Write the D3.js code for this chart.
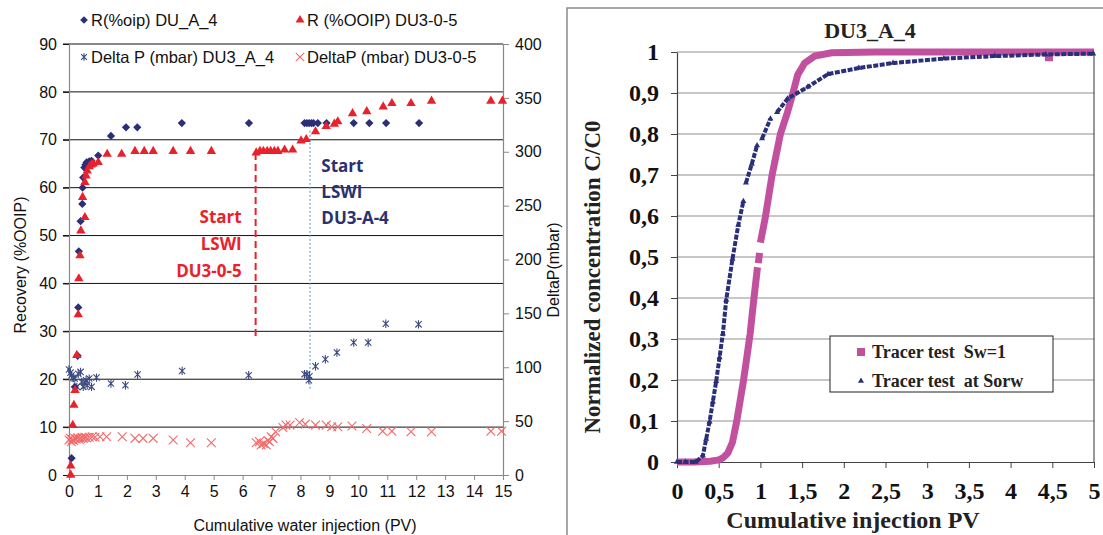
<!DOCTYPE html>
<html>
<head>
<meta charset="utf-8">
<script src="https://cdn.jsdelivr.net/npm/d3@7"></script>
<style>
  body { margin: 0; background: #fff; }
  svg { display: block; }
</style>
</head>
<body>
<svg id="chart" width="1103" height="535"></svg>
<script>
// ---- left panel: recovery (left axis) and delta P (right axis) vs PV injected
const recA4X = [0.09, 0.2, 0.3, 0.32, 0.34, 0.4, 0.46, 0.47, 0.49, 0.53, 0.57, 0.61, 0.7, 0.78, 1.01, 1.45, 1.97, 2.36, 3.9, 6.22, 8.14, 8.22, 8.3, 8.38, 8.45, 8.6, 8.9, 9.84, 10.38, 10.96, 12.1];
const recA4Y = [3.5, 18.4, 24.9, 35, 46.7, 53, 56.6, 60, 62.1, 64.2, 64.8, 65.3, 65.5, 65.6, 66.7, 70.8, 72.6, 72.6, 73.5, 73.5, 73.5, 73.5, 73.5, 73.5, 73.5, 73.5, 73.5, 73.5, 73.5, 73.5, 73.5];

const rec305X = [0.06, 0.06, 0.13, 0.17, 0.21, 0.27, 0.32, 0.34, 0.38, 0.41, 0.47, 0.55, 0.55, 0.59, 0.63, 0.7, 0.77, 0.84, 1.01, 1.32, 1.82, 2.28, 2.6, 2.91, 3.6, 4.2, 4.92, 6.47, 6.6, 6.72, 6.85, 6.97, 7.1, 7.22, 7.45, 7.73, 8.02, 8.2, 8.52, 8.89, 9.17, 9.29, 9.8, 10.29, 10.86, 11.16, 11.82, 12.53, 14.58, 14.98];
const rec305Y = [0, 1.9, 10.4, 14.6, 17.7, 25, 33.5, 41, 45.8, 51, 58, 53.8, 61.1, 62.5, 63.5, 64.4, 64.8, 65, 65.3, 67, 67, 67.6, 67.6, 67.6, 67.6, 67.6, 67.6, 67.3, 67.6, 67.6, 67.6, 67.6, 67.6, 67.6, 67.9, 67.9, 69.8, 70.1, 71.7, 72.8, 73.3, 73.8, 75.5, 75.9, 76.9, 77.6, 77.6, 78.1, 78.1, 78.1];

const dpA4X = [0, 0.05, 0.09, 0.15, 0.2, 0.27, 0.32, 0.4, 0.44, 0.49, 0.55, 0.59, 0.63, 0.7, 0.78, 0.95, 1.45, 1.95, 2.37, 3.91, 6.21, 8.14, 8.22, 8.29, 8.31, 8.52, 8.86, 9.26, 9.84, 10.34, 10.95, 12.08];
const dpA4Y = [98, 95, 92.6, 90, 89.5, 81.8, 94, 95.7, 86.4, 81.8, 86, 88, 83.3, 89.5, 81.8, 90.4, 84.9, 83.3, 93.2, 96.6, 92.6, 93.5, 93.5, 88, 91.7, 100.9, 107.4, 113.6, 122.9, 122.9, 140.4, 139.8];

const dp305X = [0, 0.05, 0.08, 0.12, 0.16, 0.2, 0.25, 0.3, 0.35, 0.4, 0.45, 0.5, 0.55, 0.6, 0.7, 0.8, 0.9, 1.07, 1.3, 1.84, 2.28, 2.56, 2.91, 3.6, 4.2, 4.92, 6.47, 6.58, 6.64, 6.72, 6.82, 6.88, 6.93, 6.99, 7.05, 7.14, 7.39, 7.5, 7.64, 7.97, 8.17, 8.52, 8.89, 9.08, 9.29, 9.78, 10.29, 10.84, 11.16, 11.82, 12.53, 14.58, 14.95];
const dp305Y = [32.4, 34, 30.9, 33, 32, 34, 33.5, 34.5, 33, 34, 35, 34, 35, 34.5, 35, 35.5, 35, 35.5, 35.5, 35.5, 34, 34, 34, 32.4, 29.9, 29.9, 29.9, 31, 27.8, 29, 27.8, 32, 30.9, 35.5, 34, 40.1, 44, 46.3, 46.3, 48.8, 47.2, 46.3, 46.3, 44.8, 44.8, 45.4, 43.2, 40.7, 40.7, 40.1, 40.1, 40.7, 40.7];

// start of low salinity injection markers (x, y from, y to) on recovery axis
const lswi305 = {x: 6.45, from: 29, to: 67.3};
const lswiA4 = {x: 8.33, from: 18, to: 72.2};

const leftXTicks = d3.range(0, 16, 1);
const leftYTicks = d3.range(0, 91, 10);
const rightYTicks = d3.range(0, 401, 50);

// ---- right panel: tracer tests
const swX = [0, 0.2, 0.4, 0.5, 0.55, 0.61, 0.665, 0.715, 0.755, 0.796, 0.837, 0.877, 0.92, 0.965, null, 0.975, 0.99, null, 1.0, 1.06, 1.14, 1.24, 1.325, 1.385, 1.447, 1.53, 1.65, 1.855, 2.38, 3, 3.5, 4, 4.5, 5];
const swY = [0, 0, 0.002, 0.005, 0.01, 0.022, 0.048, 0.098, 0.147, 0.197, 0.255, 0.313, 0.395, 0.475, null, 0.485, 0.51, null, 0.535, 0.598, 0.7, 0.8, 0.853, 0.896, 0.944, 0.973, 0.99, 0.998, 1, 1, 1, 1, 1, 1];
// single low reading of the Sw=1 test
const swOutX = [4.46];
const swOutY = [0.986];

const sorwX = [0, 0.1, 0.225, 0.31, 0.35, 0.39, 0.43, 0.47, 0.51, 0.55, 0.59, 0.665, 0.735, 0.796, null, 0.827, 0.897, 0.96, null, 1.02, 1.12, null, 1.2, 1.325, 1.57, 1.81, 2.18, 2.59, 3.2, 3.81, 4.42, 4.99];
const sorwY = [0, 0, 0, 0.015, 0.056, 0.098, 0.147, 0.197, 0.255, 0.313, 0.395, 0.495, 0.578, 0.636, null, 0.681, 0.727, 0.772, null, 0.789, 0.837, null, 0.853, 0.886, 0.915, 0.946, 0.961, 0.973, 0.984, 0.99, 0.994, 0.996];

const concTicks = d3.range(0, 11).map(d => d / 10);
const pvTicks = d3.range(0, 11).map(d => d / 2);

const NAVY = '#2a2f78';
const RED = '#e8212b';
const XRED = '#f26a6a';
const STARBLUE = '#3b4a82';
const PINK = '#c1519f';
const sans = 'Liberation Sans, Arial, sans-serif';
const serif = 'Liberation Serif, Times New Roman, serif';
const calibri = 'Open Sans, Lato, sans-serif';

const svg = d3.select('#chart');

const zip = (xs, ys) => xs.map((x, i) => ({x, y: ys[i]}));

// asterisk like excel "star" marker: vertical bar plus an X
const symbolStar = {
  draw(ctx, size) {
    const r = Math.sqrt(size) / 2;
    const d = r * 0.75;
    ctx.moveTo(0, -r); ctx.lineTo(0, r);
    ctx.moveTo(-d, -d); ctx.lineTo(d, d);
    ctx.moveTo(-d, d); ctx.lineTo(d, -d);
  }
};

// ================= LEFT PANEL =================
const xL = d3.scaleLinear().domain([0, 15]).range([69, 503]);
const yL = d3.scaleLinear().domain([0, 90]).range([475, 44]);
const yP = d3.scaleLinear().domain([0, 400]).range([475, 44]);

const left = svg.append('g');

// gridlines
left.append('g')
  .selectAll('line')
  .data(leftYTicks.filter(d => d > 0))
  .join('line')
  .attr('x1', 63).attr('x2', xL(15))
  .attr('y1', d => yL(d)).attr('y2', d => yL(d))
  .attr('stroke', '#111').attr('stroke-width', 1);

const styleAxis = (g, color) => {
  g.select('.domain').attr('stroke', color).attr('stroke-width', 1.2);
  g.selectAll('.tick line').attr('stroke', color);
  g.selectAll('.tick text').attr('fill', '#111');
};

// left y axis
left.append('g')
  .attr('transform', `translate(${xL(0)},0)`)
  .call(d3.axisLeft(yL).tickValues(leftYTicks).tickSize(6).tickSizeOuter(0).tickPadding(6))
  .call(g => styleAxis(g, '#888'))
  .call(g => g.selectAll('.tick line').attr('stroke', '#111'))
  .call(g => g.selectAll('.tick text').attr('font-family', sans).attr('font-size', 16));

// right y axis
left.append('g')
  .attr('transform', `translate(${xL(15)},0)`)
  .call(d3.axisRight(yP).tickValues(rightYTicks).tickSize(6).tickSizeOuter(0).tickPadding(6))
  .call(g => styleAxis(g, '#888'))
  .call(g => g.selectAll('.tick text').attr('font-family', sans).attr('font-size', 16));

// x axis
left.append('g')
  .attr('transform', `translate(0,${yL(0)})`)
  .call(d3.axisBottom(xL).tickValues(leftXTicks).tickSize(5).tickSizeOuter(0).tickPadding(6))
  .call(g => styleAxis(g, '#888'))
  .call(g => g.selectAll('.tick text').attr('font-family', sans).attr('font-size', 16));

// LSWI start lines
left.append('line')
  .attr('x1', xL(lswi305.x)).attr('x2', xL(lswi305.x))
  .attr('y1', yL(lswi305.from)).attr('y2', yL(lswi305.to))
  .attr('stroke', RED).attr('stroke-width', 2).attr('stroke-dasharray', '7,4');
left.append('line')
  .attr('x1', xL(lswiA4.x)).attr('x2', xL(lswiA4.x))
  .attr('y1', yL(lswiA4.from)).attr('y2', yL(lswiA4.to))
  .attr('stroke', '#5a8fd6').attr('stroke-width', 1).attr('stroke-dasharray', '2,2');

// delta P DU3-0-5 (x marks)
left.append('g')
  .selectAll('path')
  .data(zip(dp305X, dp305Y))
  .join('path')
  .attr('transform', d => `translate(${xL(d.x)},${yP(d.y)})`)
  .attr('d', d3.symbol(d3.symbolTimes, 52))
  .attr('fill', 'none').attr('stroke', XRED).attr('stroke-width', 1.1);

// delta P DU3_A_4 (stars)
left.append('g')
  .selectAll('path')
  .data(zip(dpA4X, dpA4Y))
  .join('path')
  .attr('transform', d => `translate(${xL(d.x)},${yP(d.y)})`)
  .attr('d', d3.symbol(symbolStar, 70))
  .attr('fill', 'none').attr('stroke', STARBLUE).attr('stroke-width', 1.1);

// recovery DU_A_4 (diamonds)
left.append('g')
  .selectAll('path')
  .data(zip(recA4X, recA4Y))
  .join('path')
  .attr('transform', d => `translate(${xL(d.x)},${yL(d.y)}) rotate(45)`)
  .attr('d', d3.symbol(d3.symbolSquare, 34))
  .attr('fill', NAVY);

// recovery DU3-0-5 (triangles)
left.append('g')
  .selectAll('path')
  .data(zip(rec305X, rec305Y))
  .join('path')
  .attr('transform', d => `translate(${xL(d.x)},${yL(d.y)})`)
  .attr('d', d3.symbol(d3.symbolTriangle, 38))
  .attr('fill', RED);

// annotations
const redNote = left.append('text')
  .attr('font-family', calibri).attr('font-weight', 'bold').attr('font-size', 17)
  .attr('fill', RED).attr('text-anchor', 'end');
['Start', 'LSWI', 'DU3-0-5'].forEach((t, i) => {
  redNote.append('tspan').attr('x', xL(5.97)).attr('y', yL(52.6) + i * 27).text(t);
});
const blueNote = left.append('text')
  .attr('font-family', calibri).attr('font-weight', 'bold').attr('font-size', 17)
  .attr('fill', '#2b3070').attr('text-anchor', 'start');
['Start', 'LSWI', 'DU3-A-4'].forEach((t, i) => {
  blueNote.append('tspan').attr('x', xL(8.72)).attr('y', yL(63.3) + i * 26).text(t);
});

// axis titles
left.append('text')
  .attr('transform', `translate(26,265) rotate(-90)`)
  .attr('text-anchor', 'middle').attr('font-family', sans).attr('font-size', 16)
  .attr('fill', '#111').text('Recovery (%OOIP)');
left.append('text')
  .attr('transform', `translate(559,270) rotate(-90)`)
  .attr('text-anchor', 'middle').attr('font-family', sans).attr('font-size', 16)
  .attr('fill', '#111').text('DeltaP(mbar)');
left.append('text')
  .attr('x', 305).attr('y', 531)
  .attr('text-anchor', 'middle').attr('font-family', sans).attr('font-size', 16)
  .attr('fill', '#111').text('Cumulative water injection (PV)');

// legend
const legendItems = [
  {label: 'R(%oip) DU_A_4', sym: 'diamond', x: 84, y: 20},
  {label: 'R (%OOIP) DU3-0-5', sym: 'triangle', x: 300, y: 20},
  {label: 'Delta P (mbar) DU3_A_4', sym: 'star', x: 84, y: 57},
  {label: 'DeltaP (mbar) DU3-0-5', sym: 'times', x: 300, y: 57},
];
const leg = left.append('g').selectAll('g').data(legendItems).join('g')
  .attr('transform', d => `translate(${d.x},${d.y})`);
leg.append('path')
  .attr('transform', d => d.sym === 'diamond' ? 'rotate(45)' : null)
  .attr('d', d => {
    if (d.sym === 'diamond') return d3.symbol(d3.symbolSquare, 30)();
    if (d.sym === 'triangle') return d3.symbol(d3.symbolTriangle, 34)();
    if (d.sym === 'star') return d3.symbol(symbolStar, 60)();
    return d3.symbol(d3.symbolTimes, 48)();
  })
  .attr('fill', d => d.sym === 'diamond' ? NAVY : d.sym === 'triangle' ? RED : 'none')
  .attr('stroke', d => d.sym === 'star' ? STARBLUE : d.sym === 'times' ? XRED : 'none')
  .attr('stroke-width', 1.1);
leg.append('text')
  .attr('x', 7).attr('y', 6)
  .attr('font-family', sans).attr('font-size', 16.5).attr('fill', '#111')
  .text(d => d.label);

// ================= RIGHT PANEL =================
const right = svg.append('g');

// panel frame
right.append('path')
  .attr('d', 'M567,535V8H1103')
  .attr('fill', 'none').attr('stroke', '#8a8a8a').attr('stroke-width', 1.5);

const xC = d3.scaleLinear().domain([0, 5]).range([677, 1094]);
const yC = d3.scaleLinear().domain([0, 1]).range([462, 52]);
const comma = d => String(d).replace('.', ',');

// gridlines
right.append('g')
  .selectAll('line')
  .data(concTicks.filter(d => d > 0))
  .join('line')
  .attr('x1', xC(0)).attr('x2', xC(5))
  .attr('y1', d => yC(d)).attr('y2', d => yC(d))
  .attr('stroke', '#b4b4b4').attr('stroke-width', 1.3);

// right border of plot area
right.append('line')
  .attr('x1', xC(5)).attr('x2', xC(5)).attr('y1', yC(1)).attr('y2', yC(0))
  .attr('stroke', '#333').attr('stroke-width', 1);

right.append('g')
  .attr('transform', `translate(${xC(0)},0)`)
  .call(d3.axisLeft(yC).tickValues(concTicks).tickFormat(comma).tickSize(6).tickSizeOuter(0).tickPadding(12))
  .call(g => styleAxis(g, '#444'))
  .call(g => g.selectAll('.tick text').attr('font-family', serif).attr('font-weight', 'bold').attr('font-size', 24));

right.append('g')
  .attr('transform', `translate(0,${yC(0)})`)
  .call(d3.axisBottom(xC).tickValues(pvTicks).tickFormat(comma).tickSize(6).tickSizeOuter(0).tickPadding(14))
  .call(g => styleAxis(g, '#444'))
  .call(g => g.selectAll('.tick text').attr('font-family', serif).attr('font-weight', 'bold').attr('font-size', 24));

// Sw=1 curve (dense square markers -> thick line)
const lineC = d3.line()
  .defined(d => d.x !== null && d.y !== null)
  .x(d => xC(d.x)).y(d => yC(d.y));

right.append('path')
  .datum(zip(swX, swY))
  .attr('d', lineC)
  .attr('fill', 'none').attr('stroke', PINK).attr('stroke-width', 7);

right.append('g')
  .selectAll('rect')
  .data(zip(swOutX, swOutY))
  .join('rect')
  .attr('x', d => xC(d.x) - 4).attr('y', d => yC(d.y) - 3.5)
  .attr('width', 8).attr('height', 7)
  .attr('fill', PINK);

// Sorw curve (dense small triangles)
right.append('path')
  .datum(zip(sorwX, sorwY))
  .attr('d', lineC)
  .attr('fill', 'none').attr('stroke', NAVY).attr('stroke-width', 4)
  .attr('stroke-dasharray', '5,1.5');

right.append('g')
  .selectAll('path')
  .data(zip(sorwX, sorwY).filter(d => d.x !== null))
  .join('path')
  .attr('transform', d => `translate(${xC(d.x)},${yC(d.y)})`)
  .attr('d', d3.symbol(d3.symbolTriangle, 16))
  .attr('fill', NAVY);

// title and axis titles
right.append('text')
  .attr('x', 870).attr('y', 38).attr('text-anchor', 'middle')
  .attr('font-family', serif).attr('font-weight', 'bold').attr('font-size', 22)
  .attr('fill', '#222').text('DU3_A_4');
right.append('text')
  .attr('transform', `translate(600,277) rotate(-90)`)
  .attr('text-anchor', 'middle')
  .attr('font-family', serif).attr('font-weight', 'bold').attr('font-size', 23)
  .attr('fill', '#222').text('Normalized concentration C/C0');
right.append('text')
  .attr('x', 853).attr('y', 528).attr('text-anchor', 'middle')
  .attr('font-family', serif).attr('font-weight', 'bold').attr('font-size', 24)
  .attr('fill', '#222').text('Cumulative injection PV');

// legend
const lg = right.append('g').attr('transform', 'translate(830,336)');
lg.append('rect')
  .attr('width', 223).attr('height', 56)
  .attr('fill', '#fff').attr('stroke', '#222').attr('stroke-width', 1);
lg.append('rect')
  .attr('x', 27).attr('y', 12).attr('width', 8).attr('height', 8).attr('fill', PINK);
lg.append('path')
  .attr('transform', 'translate(31,45)')
  .attr('d', d3.symbol(d3.symbolTriangle, 16))
  .attr('fill', NAVY);
lg.append('text')
  .attr('x', 42).attr('y', 22).attr('xml:space', 'preserve')
  .style('white-space', 'pre')
  .attr('font-family', serif).attr('font-weight', 'bold').attr('font-size', 18)
  .attr('fill', '#222').text('Tracer test  Sw=1');
lg.append('text')
  .attr('x', 42).attr('y', 51).attr('xml:space', 'preserve')
  .style('white-space', 'pre')
  .attr('font-family', serif).attr('font-weight', 'bold').attr('font-size', 18)
  .attr('fill', '#222').text('Tracer test  at Sorw');
</script>
</body>
</html>
